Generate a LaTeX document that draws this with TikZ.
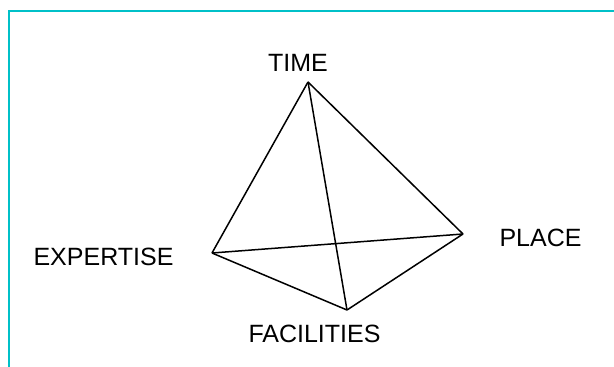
\documentclass[tikz,border=0pt]{standalone}
\usepackage{fontspec}
\setmainfont{Liberation Sans}
\definecolor{framecyan}{RGB}{0,192,200}

\begin{document}
\begin{tikzpicture}[x=1pt,y=-1pt,
  corner/.style={font=\fontsize{25}{30}\selectfont,inner sep=0pt},
  edge/.style={line width=1.5pt,line join=round}]
  \useasboundingbox (0,0) rectangle (614,367);

  % Frame along the top and left edge
  \draw [framecyan,line width=2pt] (9,367) -- (9,10.5) -- (614,10.5);

  % Corners of the tetrahedron
  \coordinate (time) at (308,82);
  \coordinate (expertise) at (212,253);
  \coordinate (place) at (463,234);
  \coordinate (facilities) at (347,310);

  % Labels
  \node [corner] (timelbl) at (298,63) {TIME};
  \node [corner] (expertiselbl) at (103.5,256.5) {EXPERTISE};
  \node [corner] (placelbl) at (540.5,237.5) {PLACE};
  \node [corner] (facilitieslbl) at (314.5,333.5) {FACILITIES};

  % Edges
  \draw [edge] (time) -- (expertise);
  \draw [edge] (time) -- (place);
  \draw [edge] (time) -- (facilities);
  \draw [edge] (expertise) -- (place);
  \draw [edge] (expertise) -- (facilities);
  \draw [edge] (place) -- (facilities);

\end{tikzpicture}
\end{document}
